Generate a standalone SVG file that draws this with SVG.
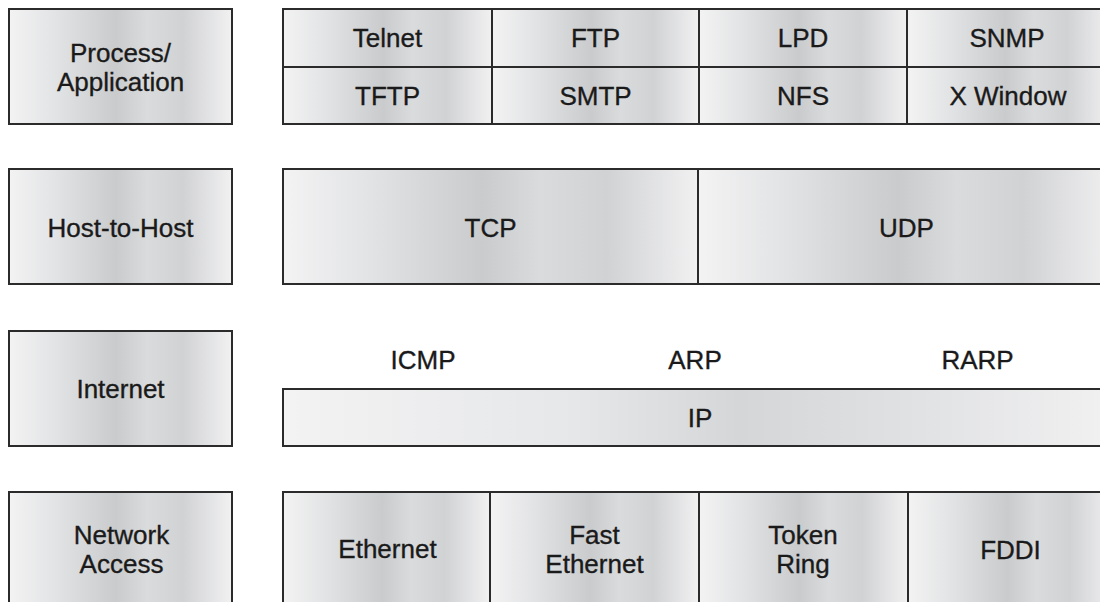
<svg xmlns="http://www.w3.org/2000/svg" width="1100" height="602" viewBox="0 0 1100 602">
<defs>
<linearGradient id="metal" x1="0" y1="0" x2="1" y2="0">
<stop offset="0" stop-color="#f3f3f4"/>
<stop offset="0.2" stop-color="#e3e4e5"/>
<stop offset="0.48" stop-color="#cacbcd"/>
<stop offset="0.62" stop-color="#dadbdc"/>
<stop offset="0.78" stop-color="#d1d2d4"/>
<stop offset="1" stop-color="#f1f1f2"/>
</linearGradient>
<linearGradient id="ipgrad" x1="0" y1="0" x2="1" y2="0">
<stop offset="0" stop-color="#f3f3f4"/>
<stop offset="0.35" stop-color="#e6e7e8"/>
<stop offset="0.55" stop-color="#d5d6d8"/>
<stop offset="0.75" stop-color="#e0e1e2"/>
<stop offset="1" stop-color="#f1f1f2"/>
</linearGradient>
</defs>
<style>
.box{fill:url(#metal);stroke:#2b2b2b;stroke-width:2}
.ip{fill:url(#ipgrad);stroke:#2b2b2b;stroke-width:2}
text{font-family:"Liberation Sans",Arial,sans-serif;font-size:26px;fill:#1a1a1a;stroke:#1a1a1a;stroke-width:0.35;text-anchor:middle}
</style>
<rect width="1100" height="602" fill="#ffffff"/>

<g id="layer-process">
<rect class="box" x="9" y="9" width="223" height="115"/>
<text x="120.5" y="62">Process/</text>
<text x="120.5" y="91">Application</text>
</g>
<g id="telnet"><rect class="box" x="283" y="9" width="209" height="58"/><text x="387.5" y="47">Telnet</text></g>
<g id="ftp"><rect class="box" x="492" y="9" width="207" height="58"/><text x="595.5" y="47">FTP</text></g>
<g id="lpd"><rect class="box" x="699" y="9" width="208" height="58"/><text x="803" y="47">LPD</text></g>
<g id="snmp"><rect class="box" x="907" y="9" width="205" height="58"/><text x="1007" y="47">SNMP</text></g>
<g id="tftp"><rect class="box" x="283" y="67" width="209" height="57"/><text x="387.5" y="105">TFTP</text></g>
<g id="smtp"><rect class="box" x="492" y="67" width="207" height="57"/><text x="595.5" y="105">SMTP</text></g>
<g id="nfs"><rect class="box" x="699" y="67" width="208" height="57"/><text x="803" y="105">NFS</text></g>
<g id="xwindow"><rect class="box" x="907" y="67" width="205" height="57"/><text x="1008" y="105">X Window</text></g>

<g id="layer-host">
<rect class="box" x="9" y="169" width="223" height="115"/>
<text x="120.5" y="237">Host-to-Host</text>
</g>
<g id="tcp"><rect class="box" x="283" y="169" width="415" height="115"/><text x="490.5" y="237">TCP</text></g>
<g id="udp"><rect class="box" x="698" y="169" width="417" height="115"/><text x="906.5" y="237">UDP</text></g>

<g id="layer-internet">
<rect class="box" x="9" y="331" width="223" height="115"/>
<text x="120.5" y="398">Internet</text>
</g>
<g id="icmp"><text x="423" y="369">ICMP</text></g>
<g id="arp"><text x="695" y="369">ARP</text></g>
<g id="rarp"><text x="977.5" y="369">RARP</text></g>
<g id="ip"><rect class="ip" x="283" y="389" width="832" height="57"/><text x="700" y="427">IP</text></g>

<g id="layer-network">
<rect class="box" x="9" y="492" width="223" height="118"/>
<text x="121.5" y="544">Network</text>
<text x="121.5" y="573">Access</text>
</g>
<g id="ethernet"><rect class="box" x="283" y="492" width="207" height="118"/><text x="387.5" y="558">Ethernet</text></g>
<g id="fastethernet"><rect class="box" x="490" y="492" width="209" height="118"/><text x="594.5" y="544">Fast</text><text x="594.5" y="573">Ethernet</text></g>
<g id="tokenring"><rect class="box" x="699" y="492" width="209" height="118"/><text x="803" y="544">Token</text><text x="803" y="573">Ring</text></g>
<g id="fddi"><rect class="box" x="908" y="492" width="207" height="118"/><text x="1010.5" y="559">FDDI</text></g>
</svg>
